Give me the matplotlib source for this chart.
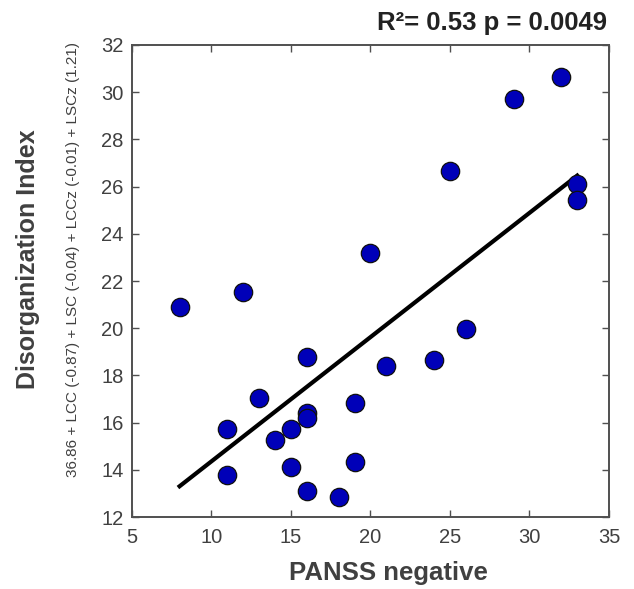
import matplotlib.pyplot as plt
import numpy as np

plt.rcParams['font.family'] = ['Liberation Sans', 'DejaVu Sans']

# PANSS negative score and disorganization index, one entry per subject
panss_neg = [8, 12, 20, 26, 16, 21, 24, 13, 19, 16, 16, 11, 15, 14, 11, 15, 19, 16, 18,
             32, 29, 25, 33, 33]
disorg = [20.9, 21.55, 23.2, 19.95, 18.8, 18.4, 18.65, 17.05, 16.85, 16.4, 16.2, 15.75,
          15.75, 15.25, 13.8, 14.1, 14.35, 13.1, 12.85, 30.65, 29.7, 26.65, 26.1, 25.45]
title_txt = 'R²= 0.53 p = 0.0049'

x = np.array(panss_neg, dtype=float)
y = np.array(disorg, dtype=float)
slope, icpt = np.polyfit(x, y, 1)
xf = np.array([x.min(), x.max()])

fig = plt.figure(figsize=(6.34, 5.89), dpi=100)
ax = fig.add_axes([0.208, 0.1222, 0.7526, 0.8014])

ax.plot(xf, icpt + slope * xf, color='black', lw=3, zorder=2)
ax.scatter(x, y, s=175, c='#0000b8', edgecolors='#101010', linewidths=0.9, zorder=3)

ax.set_xlim(5, 35)
ax.set_ylim(12, 32)
ax.set_xticks(range(5, 36, 5))
ax.set_yticks(range(12, 33, 2))
ax.tick_params(direction='in', top=True, right=True, length=5, width=1,
               colors='#505050', labelsize=14.5, labelcolor='#404040')
ax.tick_params(axis='x', pad=8)
ax.tick_params(axis='y', pad=6)
for sp in ax.spines.values():
    sp.set_color('#505050')
    sp.set_linewidth(1.4)

fig.text(0.613, 0.027, 'PANSS negative', ha='center', va='center',
         fontsize=18.5, fontweight='bold', color='#404040')
fig.text(0.044, 0.56, 'Disorganization Index', rotation=90, ha='center', va='center',
         fontsize=18, fontweight='bold', color='#404040')
fig.text(0.115, 0.56, '36.86 + LCC (-0.87) + LSC (-0.04) + LCCz (-0.01) + LSCz (1.21)',
         rotation=90, ha='center', va='center', fontsize=11, color='#404040')
fig.text(0.958, 0.961, title_txt, ha='right', va='center', fontsize=18.5, fontweight='bold',
         color='#222222')

fig.savefig('out.png', dpi=100)
